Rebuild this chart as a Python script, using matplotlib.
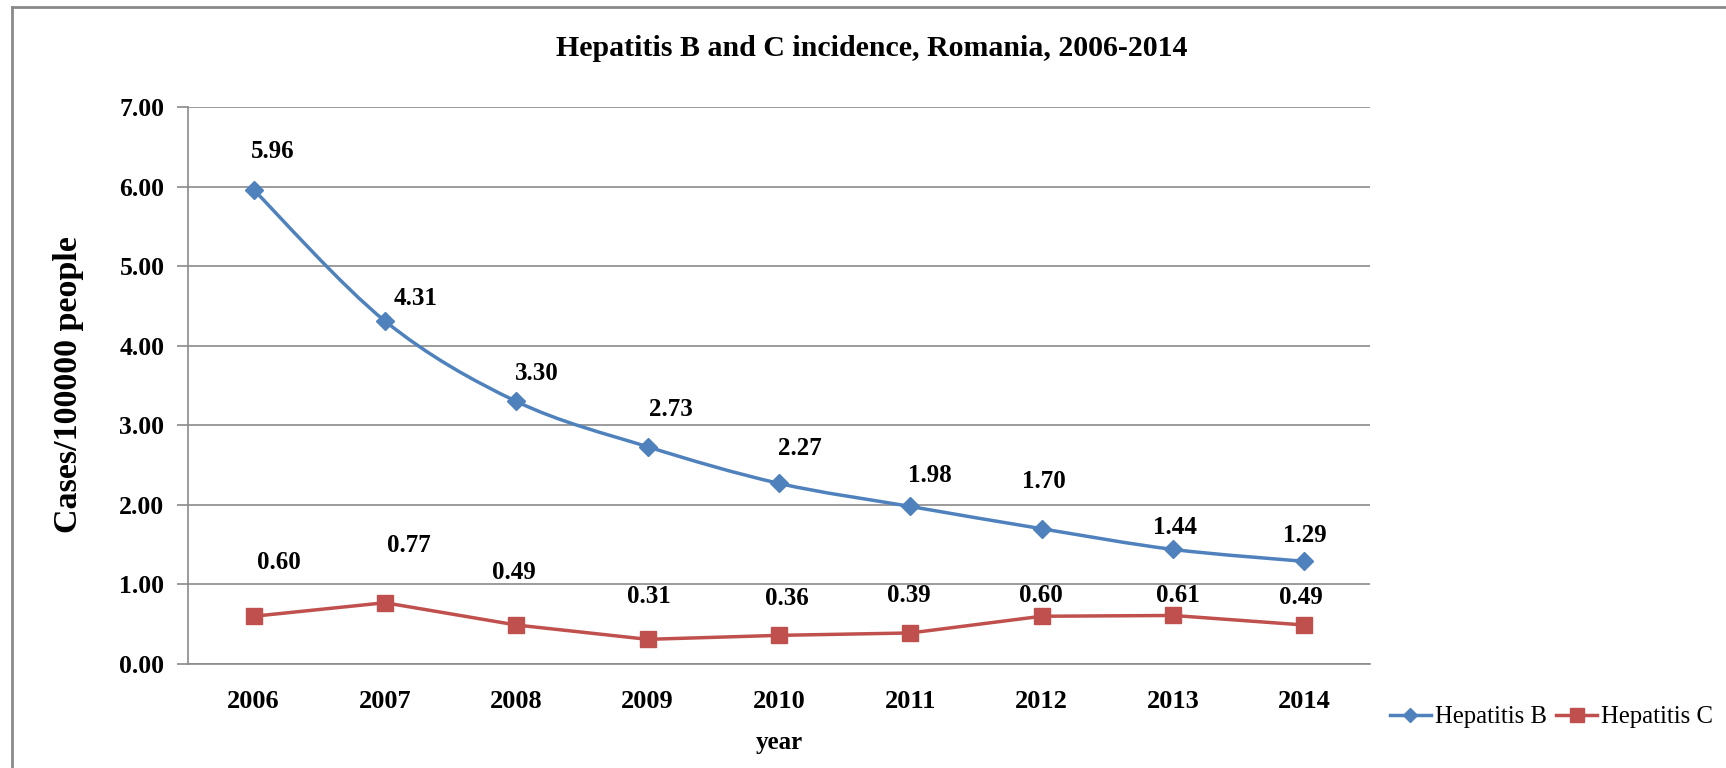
import matplotlib
matplotlib.use("Agg")
import matplotlib.pyplot as plt
from matplotlib.path import Path
from matplotlib.patches import PathPatch
from matplotlib.lines import Line2D
import numpy as np

years = ["2006", "2007", "2008", "2009", "2010", "2011", "2012", "2013", "2014"]
hep_b = [5.96, 4.31, 3.30, 2.73, 2.27, 1.98, 1.70, 1.44, 1.29]
hep_c = [0.60, 0.77, 0.49, 0.31, 0.36, 0.39, 0.60, 0.61, 0.49]
y_ticks = [0, 1, 2, 3, 4, 5, 6, 7]

# label offsets (pixels) relative to each point
off_b = [(19, 38), (31, 23), (20, 28), (23, 37), (21, 35), (20, 31), (2, 47), (2, 22), (0, 26)]
off_c = [(25, 54), (24, 57), (-2, 53), (1, 43), (8, 37), (-2, 37), (-1, 21), (5, 20), (-3, 28)]

BLUE = "#4F81BD"
RED = "#C0504D"
GRID = "#8A8A8A"
SERIF = ["Liberation Serif", "DejaVu Serif"]

plt.rcParams['font.family'] = SERIF

fig = plt.figure(figsize=(17.26, 7.68), dpi=100)
ax = fig.add_axes([188/1726, 1-664/768, (1370-188)/1726, (664-107)/768])

def smooth_path(xs, ys):
    pts = np.column_stack([xs, ys]).astype(float)
    n = len(pts)
    verts = [pts[0]]
    codes = [Path.MOVETO]
    for i in range(n - 1):
        p0 = pts[i - 1] if i > 0 else pts[i]
        p1 = pts[i]
        p2 = pts[i + 1]
        p3 = pts[i + 2] if i + 2 < n else pts[i + 1]
        c1 = p1 + (p2 - p0) / 6.0
        c2 = p2 - (p3 - p1) / 6.0
        verts += [c1, c2, p2]
        codes += [Path.CURVE4] * 3
    return Path(verts, codes)

x = np.arange(len(years))

# Hepatitis B: smoothed line
ax.add_patch(PathPatch(smooth_path(x, hep_b), facecolor="none", edgecolor=BLUE,
                       lw=2.5, transform=ax.transData, zorder=3, capstyle="round"))
ax.plot(x, hep_b, linestyle="none", marker="D", markersize=8.8, color=BLUE, zorder=4)
# Hepatitis C: straight segments
ax.plot(x, hep_c, color=RED, lw=2.5, marker="s", markersize=11, zorder=4)

for vals, offs in [(hep_b, off_b), (hep_c, off_c)]:
    for xi, v, (dx, dy) in zip(x, vals, offs):
        ax.annotate(f"{v:.2f}", (xi, v), xytext=(dx, dy), textcoords="offset pixels",
                    ha="center", va="center", fontsize=18, fontweight="bold",
                    color="black", zorder=5)

ax.set_xlim(-0.5, len(years) - 0.5)
ax.set_ylim(0, 7)
ax.set_yticks(y_ticks)
ax.set_yticklabels([f"{t:.2f}" for t in y_ticks])
ax.set_xticks(x)
ax.set_xticklabels(years)
ax.grid(axis="y", color=GRID, lw=1.2)
ax.set_axisbelow(True)
for s in ["top", "right"]:
    ax.spines[s].set_visible(False)
for s in ["left", "bottom"]:
    ax.spines[s].set_color(GRID)
    ax.spines[s].set_linewidth(1.2)
ax.tick_params(axis="y", length=8, width=1.2, color=GRID, pad=9, labelsize=18.5)
ax.tick_params(axis="x", length=0, pad=19, labelsize=19)
for lbl in ax.get_xticklabels() + ax.get_yticklabels():
    lbl.set_fontweight("bold")

ax.set_ylabel("Cases/100000 people", fontsize=24.5, fontweight="bold", va="center")
ax.yaxis.set_label_coords((69-188)/1182, (664-385)/557)
ax.set_xlabel("year", fontsize=18, fontweight="bold", labelpad=13)

fig.text(872/1726, 1-49/768, "Hepatitis B and C incidence, Romania, 2006-2014",
         ha="center", va="center", fontsize=21.5, fontweight="bold")

handles = [Line2D([], [], color=BLUE, lw=2.5, marker="D", markersize=7.5),
           Line2D([], [], color=RED, lw=2.5, marker="s", markersize=9.5)]
fig.legend(handles, ["Hepatitis B", "Hepatitis C"], loc="center left",
           bbox_to_anchor=(1390/1726, 1-717/768), ncol=2, frameon=False,
           fontsize=17.8, handlelength=1.65, handletextpad=0.15, columnspacing=0.4,
           borderpad=0, borderaxespad=0)

# outer chart frame (clipped at right and bottom in the reference)
fig.add_artist(Line2D([12/1726, 12/1726], [0, 1-7/768], color=GRID, lw=2,
                      transform=fig.transFigure))
fig.add_artist(Line2D([12/1726, 1], [1-7/768, 1-7/768], color=GRID, lw=2,
                      transform=fig.transFigure))

fig.savefig("out.png", dpi=100)
